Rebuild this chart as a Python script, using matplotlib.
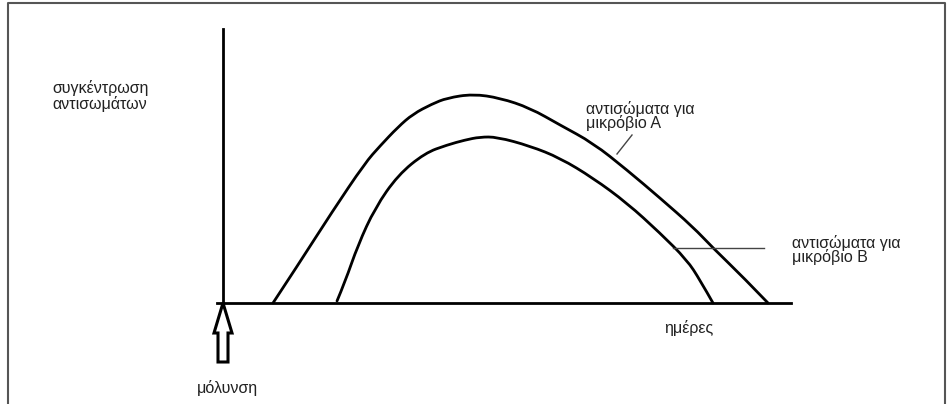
import matplotlib
matplotlib.use("Agg")
import matplotlib.pyplot as plt
from matplotlib.patches import Polygon, PathPatch
from matplotlib.path import Path

plt.rcParams['font.family'] = ['Liberation Sans', 'DejaVu Sans']

# curves (days after infection, antibody level, arbitrary units)
days_A = [50, 75, 109, 142, 157, 175, 190, 209, 224, 250, 277, 307, 337, 370, 404, 437, 470, 490, 520, 545]
conc_A = [0, 38, 91, 140, 157, 176, 189, 199, 205, 209, 205, 195, 178, 160, 133, 105, 76, 55, 26, 0]
days_B = [114, 122, 135, 152, 175, 202, 224, 242, 257, 274, 307, 337, 370, 404, 437, 464, 477, 490]
conc_B = [2, 21, 58, 95, 128, 150, 158, 163, 166, 166, 157, 145, 125, 100, 70, 43, 23, 0]

y_label = "συγκέντρωση\nαντισωμάτων"
x_label = "ημέρες"
infection = "μόλυνση"
label_A = "αντισώματα για\nμικρόβιο A"
label_B = "αντισώματα για\nμικρόβιο B"


def smooth(xs, ys):
    # quadratic pieces through the midpoints, so the hand-drawn curve has no corners
    pts = list(zip(xs, ys))
    verts = [pts[0]]
    codes = [Path.MOVETO]
    for i in range(1, len(pts) - 1):
        mid = ((pts[i][0] + pts[i + 1][0]) / 2, (pts[i][1] + pts[i + 1][1]) / 2)
        if i == len(pts) - 2:
            mid = pts[-1]
        verts += [pts[i], mid]
        codes += [Path.CURVE3, Path.CURVE3]
    return Path(verts, codes)


fig = plt.figure(figsize=(9.53, 4.04), dpi=100)
ax = fig.add_axes([0, 0, 1, 1])
ax.set_xlim(-223, 730)
ax.set_ylim(-101, 303)
ax.axis('off')

# frame around the drawing (bottom edge falls outside the picture)
ax.plot([-215, -215, 722, 722], [-110, 300, 300, -110], color='#555555', lw=1.5)

# axes of the sketch
ax.plot([0, 0], [0, 274], color='black', lw=2.0)
ax.plot([-6, 568], [0, 0], color='black', lw=2.0)

for xs, ys in [(days_A, conc_A), (days_B, conc_B)]:
    ax.add_patch(PathPatch(smooth(xs, ys), fill=False, edgecolor='black', lw=2.0,
                           capstyle='round', joinstyle='round'))

# hollow arrow marking the infection
arrow = Polygon([(0, 0), (9, -30), (5, -30), (5, -59), (-5, -59), (-5, -30), (-9, -30)],
                closed=True, facecolor='white', edgecolor='black', lw=2.2)
ax.add_patch(arrow)

# pointer lines for the labels
ax.plot([394, 409], [149, 168], color='#444444', lw=1)
ax.plot([450, 541], [55, 55], color='#444444', lw=1)

txt = dict(fontsize=11.5, color='#222222')
ax.text(-171, 207, y_label, ha='left', va='center', linespacing=1.0, **txt)
ax.text(4, -85, infection, ha='center', va='center', **txt)
ax.text(466, -25, x_label, ha='center', va='center', **txt)
ax.text(363, 187, label_A, ha='left', va='center', linespacing=0.92, **txt)
ax.text(569, 53, label_B, ha='left', va='center', linespacing=0.92, **txt)

fig.savefig("out.png", dpi=100)
